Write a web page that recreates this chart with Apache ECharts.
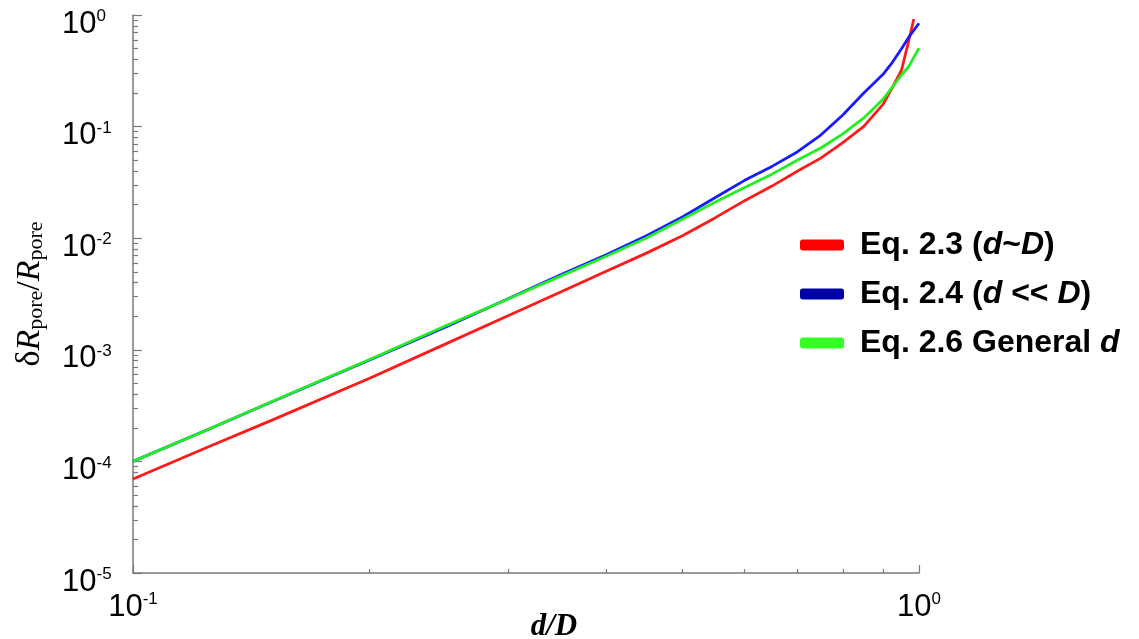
<!DOCTYPE html>
<html>
<head>
<meta charset="utf-8">
<script src="https://cdn.jsdelivr.net/npm/echarts@6/dist/echarts.min.js"></script>
<style>
  html, body { margin: 0; padding: 0; background: #fff; }
  #chart { width: 1139px; height: 639px; }
</style>
</head>
<body>
<div id="chart"></div>
<script>
// d/D values (shared x for all three curves)
const dOverD = [0.1, 0.125, 0.15, 0.2, 0.25, 0.3, 0.35, 0.4, 0.45, 0.5, 0.55, 0.6, 0.65, 0.7, 0.75, 0.8, 0.85, 0.9, 0.925, 0.95, 0.97, 0.985, 1.0]

// dR_pore / R_pore
const eq23 = [6.95e-5, 1.36e-4, 2.33e-4, 5.55e-4, 1.13e-3, 2.02e-3, 3.3e-3, 5.05e-3, 7.35e-3, 1.05e-2, 1.52e-2, 2.17e-2, 2.93e-2, 3.98e-2, 5.22e-2, 7.18e-2, 1.0e-1, 1.58e-1, 2.24e-1, 3.2e-1, 5.8e-1, 9.2e-1, null]
const eq24 = [1.0e-4, 1.95e-4, 3.4e-4, 8.1e-4, 1.6e-3, 2.87e-3, 4.7e-3, 7.1e-3, 1.05e-2, 1.55e-2, 2.3e-2, 3.3e-2, 4.4e-2, 5.93e-2, 8.4e-2, 1.27e-1, 1.99e-1, 2.94e-1, 3.77e-1, 4.99e-1, 6.3e-1, 7.3e-1, 8.43e-1]
const eq26 = [1.0e-4, 1.95e-4, 3.43e-4, 8.2e-4, 1.64e-3, 2.85e-3, 4.57e-3, 6.89e-3, 1.005e-2, 1.48e-2, 2.1e-2, 2.85e-2, 3.75e-2, 5.0e-2, 6.43e-2, 8.6e-2, 1.19e-1, 1.76e-1, 2.26e-1, 2.9e-1, 3.44e-1, 4.17e-1, 5.03e-1]

const seriesNames = ['Eq. 2.3 (d~D)', 'Eq. 2.4 (d << D)', 'Eq. 2.6 General d']
const legendLabels = ['Eq. 2.3 ({i|d}~{i|D})', 'Eq. 2.4 ({i|d} << {i|D})', 'Eq. 2.6 General {i|d}']
const lineColors = ['#ff1a1a', '#1a1aff', '#22ee22']
const legendColors = ['#ff0000', '#0000a8', '#33ff22']

// tick values
const xMinorTicks = [0.2, 0.3, 0.4, 0.5, 0.6, 0.7, 0.8, 0.9]
const yMajorTicks = [1e-5, 1e-4, 1e-3, 1e-2, 1e-1, 1]
const yMinorTicks = []
yMajorTicks.slice(0, -1).forEach((d) => {
	for (let k = 2; k <= 9; k++) yMinorTicks.push(d * k)
})

const sansFont = 'Arial, "Liberation Sans", sans-serif'
const serifFont = '"Times New Roman", "Liberation Serif", serif'
const axisGray = '#7a7a7a'

const powRich = {
	b: { fontSize: 31, fontFamily: sansFont, color: '#000', lineHeight: 32 },
	s: { fontSize: 17, fontFamily: sansFont, color: '#000', verticalAlign: 'top', lineHeight: 18 }
}
const powLabel = (v) => '{b|10}{s|' + Math.round(Math.log10(v)) + '}'

const toPairs = (ys) => dOverD.map((x, i) => [x, ys[i]]).filter((p) => p[1] != null)

const chart = echarts.init(document.getElementById('chart'), null, { renderer: 'canvas' })

const option = {
	backgroundColor: '#fff',
	animation: false,
	grid: { left: 133, right: 220, top: 15, bottom: 66, outerBoundsMode: 'none', containLabel: false },
	legend: {
		orient: 'vertical',
		left: 800,
		top: 227,
		padding: 0,
		itemWidth: 44,
		itemHeight: 11,
		itemGap: 13,
		icon: 'roundRect',
		data: seriesNames.map((n, i) => ({ name: n, itemStyle: { color: legendColors[i] } })),
		formatter: (name) => legendLabels[seriesNames.indexOf(name)],
		textStyle: {
			fontSize: 32,
			fontWeight: 'bold',
			fontFamily: sansFont,
			color: '#000',
			lineHeight: 36,
			padding: [0, 0, 0, 11],
			rich: {
				i: { fontSize: 32, fontWeight: 'bold', fontStyle: 'italic', fontFamily: sansFont, color: '#000' }
			}
		}
	},
	xAxis: [
		{
			type: 'log',
			logBase: 10,
			min: 0.1,
			max: 1,
			name: 'd/D',
			nameLocation: 'middle',
			nameGap: 38,
			nameMoveOverlap: false,
			nameTextStyle: {
				fontSize: 31,
				fontFamily: serifFont,
				fontStyle: 'italic',
				fontWeight: 'bold',
				color: '#000',
				padding: [0, 0, 0, 56]
			},
			axisLine: { lineStyle: { color: axisGray, width: 1.5 } },
			axisTick: { inside: true, length: 8, lineStyle: { color: axisGray, width: 1.2 } },
			axisLabel: { margin: 18, formatter: powLabel, rich: powRich, showMinLabel: true, showMaxLabel: true },
			splitLine: { show: false }
		},
		{
			type: 'log',
			logBase: 10,
			min: 0.1,
			max: 1,
			position: 'bottom',
			axisLine: { show: false },
			axisTick: { inside: true, length: 4, customValues: xMinorTicks, lineStyle: { color: axisGray, width: 1.2 } },
			axisLabel: { show: false },
			splitLine: { show: false }
		}
	],
	yAxis: [
		{
			type: 'log',
			logBase: 10,
			min: 1e-5,
			max: 1,
			name: '{g|δ}{i|R}{s|pore}{n|/}{i|R}{s|pore}',
			nameLocation: 'middle',
			nameRotate: 90,
			nameGap: 86,
			nameMoveOverlap: false,
			nameTextStyle: {
				color: '#000',
				rich: {
					g: { fontSize: 34, fontFamily: serifFont, color: '#000' },
					i: { fontSize: 34, fontFamily: serifFont, fontStyle: 'italic', color: '#000' },
					n: { fontSize: 34, fontFamily: serifFont, color: '#000' },
					s: { fontSize: 22, fontFamily: serifFont, color: '#000', verticalAlign: 'bottom', lineHeight: 30 }
				}
			},
			axisLine: { lineStyle: { color: axisGray, width: 1.5 } },
			axisTick: { inside: true, length: 9, customValues: yMajorTicks, lineStyle: { color: axisGray, width: 1.2 } },
			axisLabel: {
				align: 'left',
				margin: 71,
				padding: [18, 0, 0, 0],
				customValues: yMajorTicks,
				formatter: powLabel,
				rich: powRich
			},
			splitLine: { show: false }
		},
		{
			type: 'log',
			logBase: 10,
			min: 1e-5,
			max: 1,
			position: 'left',
			axisLine: { show: false },
			axisTick: { inside: true, length: 5, customValues: yMinorTicks, lineStyle: { color: axisGray, width: 1.2 } },
			axisLabel: { show: false },
			splitLine: { show: false }
		}
	],
	series: [eq23, eq24, eq26].map((ys, i) => ({
		name: seriesNames[i],
		type: 'line',
		data: toPairs(ys),
		symbol: 'none',
		smooth: false,
		lineStyle: { color: lineColors[i], width: 2.8 },
		itemStyle: { color: legendColors[i] }
	}))
}

chart.setOption(option)
</script>
</body>
</html>
